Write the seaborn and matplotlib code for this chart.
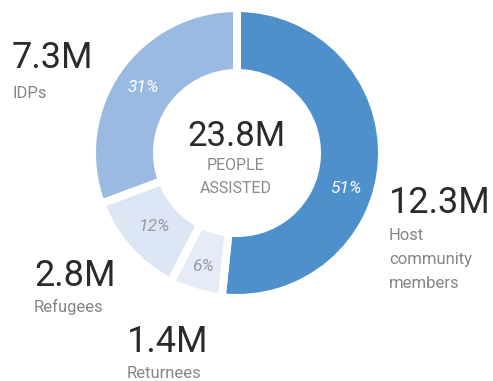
import numpy as np
import matplotlib
matplotlib.use("Agg")
import matplotlib.pyplot as plt
import seaborn as sns

# Beneficiary groups, in clockwise order from 12 o'clock
categories = ["Host\ncommunity\nmembers", "Returnees", "Refugees", "IDPs"]
values_m = [12.3, 1.4, 2.8, 7.3]
value_labels = ["12.3M", "1.4M", "2.8M", "7.3M"]
pct_labels = ["51%", "6%", "12%", "31%"]
total_label = "23.8M"
total_caption = ["PEOPLE", "ASSISTED"]

sns.set_theme(style="white")
plt.rcParams["font.family"] = ["Roboto", "DejaVu Sans"]

colors = ["#4e90cc", "#e5ebf7", "#dce6f4", "#9bbae1"]
pct_colors = ["white", "#979ba3", "#979ba3", "white"]

W, H = 493, 381
fig = plt.figure(figsize=(W / 100, H / 100), dpi=100)
ax = fig.add_axes([0, 0, 1, 1])

def py(y):
    """Convert a top-down pixel row to data y."""
    return H - y

cx, cy = 237, py(153)
gap = 8            # white gap between wedges, px
r_out, r_in = 141, 84
R = r_out + gap / 2
ring = (r_out - r_in) + gap

wedges, _ = ax.pie(
    values_m, colors=colors, startangle=90, counterclock=False,
    center=(cx, cy), radius=R, frame=True,
    wedgeprops=dict(width=ring, edgecolor="white", linewidth=gap * 0.72),
)
ax.set_xlim(0, W)
ax.set_ylim(0, H)
ax.set_aspect("equal")
ax.axis("off")

# percentage labels placed along each wedge
label_frac = [0.58, 0.5, 0.5, 0.5]
label_r = [114, 118, 110, 114]
for w, txt, c, f, lr in zip(wedges, pct_labels, pct_colors, label_frac, label_r):
    ang = np.deg2rad(w.theta2 - f * (w.theta2 - w.theta1))
    ax.text(cx + lr * np.cos(ang), cy + lr * np.sin(ang), txt,
            ha="center", va="center", color=c, fontsize=12.5,
            style="italic", fontweight="normal")

# centre total
ax.text(236, py(146), total_label, ha="center", va="baseline",
        fontsize=25, color="#2a2a2a")
ax.text(236, py(170), total_caption[0], ha="center", va="baseline",
        fontsize=11.5, color="#8a8a8a")
ax.text(236, py(193), total_caption[1], ha="center", va="baseline",
        fontsize=11.5, color="#8a8a8a")

# callouts: (x, value baseline, first label baseline)
callouts = {
    0: (389, 213, 240),
    1: (127, 352, 378),
    2: (34, 286, 312),
    3: (12, 68, 98),
}
for i, (x, yb, yl) in callouts.items():
    ax.text(x, py(yb), value_labels[i], ha="left", va="baseline",
            fontsize=26, color="#2a2a2a")
    lines = categories[i].split("\n")
    for k, line in enumerate(lines):
        ax.text(x, py(yl + 24 * k), line, ha="left", va="baseline",
                fontsize=12, color="#858585")

fig.savefig("out.png", dpi=100)
